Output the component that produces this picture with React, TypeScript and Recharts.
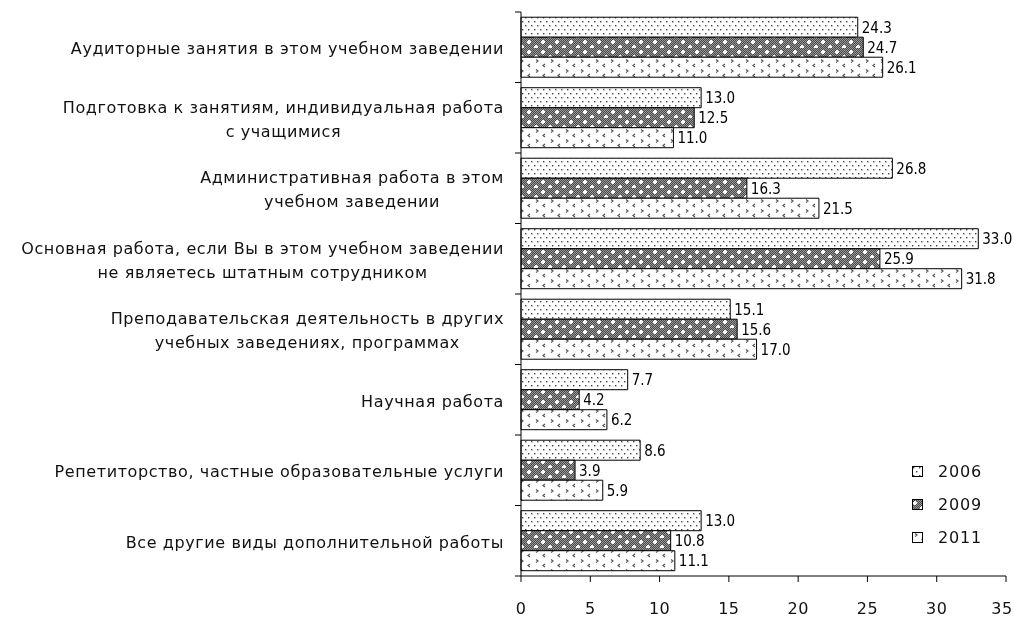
import React from "react";
import { BarChart, Bar, XAxis, YAxis, LabelList, Legend } from "recharts";

const categories = [
  "Аудиторные занятия в этом учебном заведении",
  "Подготовка к занятиям, индивидуальная работа\nс учащимися",
  "Административная работа в этом\nучебном заведении",
  "Основная работа, если Вы в этом учебном заведении\nне являетесь штатным сотрудником",
  "Преподавательская деятельность в других\nучебных заведениях, программах",
  "Научная работа",
  "Репетиторство, частные образовательные услуги",
  "Все другие виды дополнительной работы",
];
const v2006 = [24.3, 13.0, 26.8, 33.0, 15.1, 7.7, 8.6, 13.0];
const v2009 = [24.7, 12.5, 16.3, 25.9, 15.6, 4.2, 3.9, 10.8];
const v2011 = [26.1, 11.0, 21.5, 31.8, 17.0, 6.2, 5.9, 11.1];
const seriesNames = ["2006", "2009", "2011"];
const xTicks = [0, 5, 10, 15, 20, 25, 30, 35];

const data = categories.map((c, i) => ({
  name: c,
  s2006: v2006[i],
  s2009: v2009[i],
  s2011: v2011[i],
}));

const LABEL_SIZE = 16;
const LABEL_FONT = LABEL_SIZE + "px 'DejaVu Sans'";
const LABEL_SPACING = 0.6;
const VALUE_FONT = "'Liberation Sans Narrow', 'Arial Narrow', 'DejaVu Sans Condensed', sans-serif";

let ctxCache: CanvasRenderingContext2D | null = null;
function measure(text: string): number {
  if (!ctxCache) {
    const c = document.createElement("canvas");
    ctxCache = c.getContext("2d");
  }
  const ctx = ctxCache as any;
  ctx.font = LABEL_FONT;
  try {
    ctx.letterSpacing = LABEL_SPACING + "px";
  } catch (e) {}
  return ctx.measureText(text).width;
}

const PLOT_TOP = 4;
const PLOT_BOTTOM = 568;
const BAND = (PLOT_BOTTOM - PLOT_TOP) / 8;

const CategoryTick = (props: any) => {
  const { x, y, payload, index } = props;
  const lines: string[] = String(payload.value).split("\n");
  const maxW = Math.max(...lines.map((l) => measure(l)));
  const right = x - 9;
  const cx = right - maxW / 2;
  const lh = 24;
  const startY = y + 1.5 - ((lines.length - 1) * lh) / 2;
  const axisX = 513;
  return (
    <g>
      <line x1={axisX - 6} x2={axisX} y1={y - BAND / 2} y2={y - BAND / 2} stroke="#000" />
      {index === categories.length - 1 && (
        <line x1={axisX - 6} x2={axisX} y1={y + BAND / 2} y2={y + BAND / 2} stroke="#000" />
      )}
      {lines.map((l, i) => (
        <text
          key={i}
          x={cx}
          y={startY + i * lh}
          dy="0.35em"
          textAnchor="middle"
          fontFamily="'DejaVu Sans'"
          fontSize={LABEL_SIZE}
          letterSpacing={LABEL_SPACING}
          fill="#111"
        >
          {l}
        </text>
      ))}
    </g>
  );
};

const ValueTick = (props: any) => {
  const { x, y, payload, index } = props;
  const last = index === xTicks.length - 1;
  return (
    <text
      x={last ? x - 4 : x}
      y={y}
      dy="0.71em"
      textAnchor="middle"
      fontFamily="'DejaVu Sans'"
      fontSize={16}
      letterSpacing={0.5}
      fill="#111"
    >
      {payload.value}
    </text>
  );
};

const checkRows = () => {
  let d = "";
  for (let r = 0; r < 10; r++) {
    for (let c = r % 2; c < 14; c += 2) d += `M${c} ${r}h1v1h-1z`;
  }
  return d;
};

const Patterns = () => (
  <defs>
    <pattern id="p2006" width="6" height="8" patternUnits="userSpaceOnUse">
      <rect width="6" height="8" fill="#fff" />
      <rect x="1" y="1" width="1.4" height="1.4" fill="#444" />
      <rect x="4" y="5" width="1.4" height="1.4" fill="#444" />
    </pattern>
    <pattern id="p2009" width="14" height="10" patternUnits="userSpaceOnUse">
      <rect width="14" height="10" fill="#4a4a4a" />
      <path d={checkRows()} fill="#999" />
      <path d="M2 2h2v1h1v2h-1v1h-2v-1h-1v-2h1z" fill="#fff" />
      <path d="M9 7h2v1h1v2h-1v1h-2v-1h-1v-2h1z" fill="#fff" />
    </pattern>
    <pattern id="p2011" width="15" height="10" patternUnits="userSpaceOnUse">
      <rect width="15" height="10" fill="#fff" />
      <path d="M3 1.5 L5 3 L3 4.5" stroke="#555" strokeWidth="1.2" fill="none" />
      <path d="M12 6 L10 7.5 L12 9" stroke="#555" strokeWidth="1.2" fill="none" />
    </pattern>
  </defs>
);

const fmt = (v: any) => Number(v).toFixed(1);

const renderLegend = () => {
  const fills = ["url(#p2006)", "url(#p2009)", "url(#p2011)"];
  return (
    <div style={{ fontFamily: "'DejaVu Sans'", fontSize: 16, color: "#111" }}>
      {seriesNames.map((n, i) => (
        <div key={n} style={{ display: "flex", alignItems: "center", height: 33 }}>
          <svg width={12} height={12} style={{ marginRight: 14 }}>
            <rect x={0.5} y={0.5} width={10} height={10} fill={fills[i]} stroke="#000" />
          </svg>
          <span style={{ letterSpacing: 0.8 }}>{n}</span>
        </div>
      ))}
    </div>
  );
};

export default function App() {
  return (
    <div style={{ position: "fixed", left: 8, top: 8, width: 1006, height: 609 }}>
      <BarChart
        width={1006}
        height={609}
        data={data}
        layout="vertical"
        margin={{ top: PLOT_TOP, right: 8, left: 0, bottom: 0 }}
        barCategoryGap="7.4%"
        barGap={0}
        style={{ overflow: "visible" }}
      >
        <Patterns />
        <XAxis
          type="number"
          domain={[0, 35]}
          ticks={xTicks}
          interval={0}
          height={41}
          tickSize={6}
          tickMargin={21}
          axisLine={{ stroke: "#000" }}
          tickLine={{ stroke: "#000" }}
          tick={<ValueTick />}
        />
        <YAxis
          type="category"
          dataKey="name"
          width={513}
          interval={0}
          axisLine={{ stroke: "#000" }}
          tickLine={false}
          tick={<CategoryTick />}
        />
        <Legend
          layout="vertical"
          align="center"
          verticalAlign="middle"
          content={renderLegend}
          wrapperStyle={{ position: "absolute", left: 904, top: 447, width: 100 }}
        />
        <Bar dataKey="s2006" name="2006" fill="url(#p2006)" stroke="#000" strokeWidth={1} isAnimationActive={false}>
          <LabelList dataKey="s2006" position="right" offset={4} formatter={fmt} fill="#000" fontSize={15} fontFamily={VALUE_FONT} />
        </Bar>
        <Bar dataKey="s2009" name="2009" fill="url(#p2009)" stroke="#000" strokeWidth={1} isAnimationActive={false}>
          <LabelList dataKey="s2009" position="right" offset={4} formatter={fmt} fill="#000" fontSize={15} fontFamily={VALUE_FONT} />
        </Bar>
        <Bar dataKey="s2011" name="2011" fill="url(#p2011)" stroke="#000" strokeWidth={1} isAnimationActive={false}>
          <LabelList dataKey="s2011" position="right" offset={4} formatter={fmt} fill="#000" fontSize={15} fontFamily={VALUE_FONT} />
        </Bar>
      </BarChart>
    </div>
  );
}
